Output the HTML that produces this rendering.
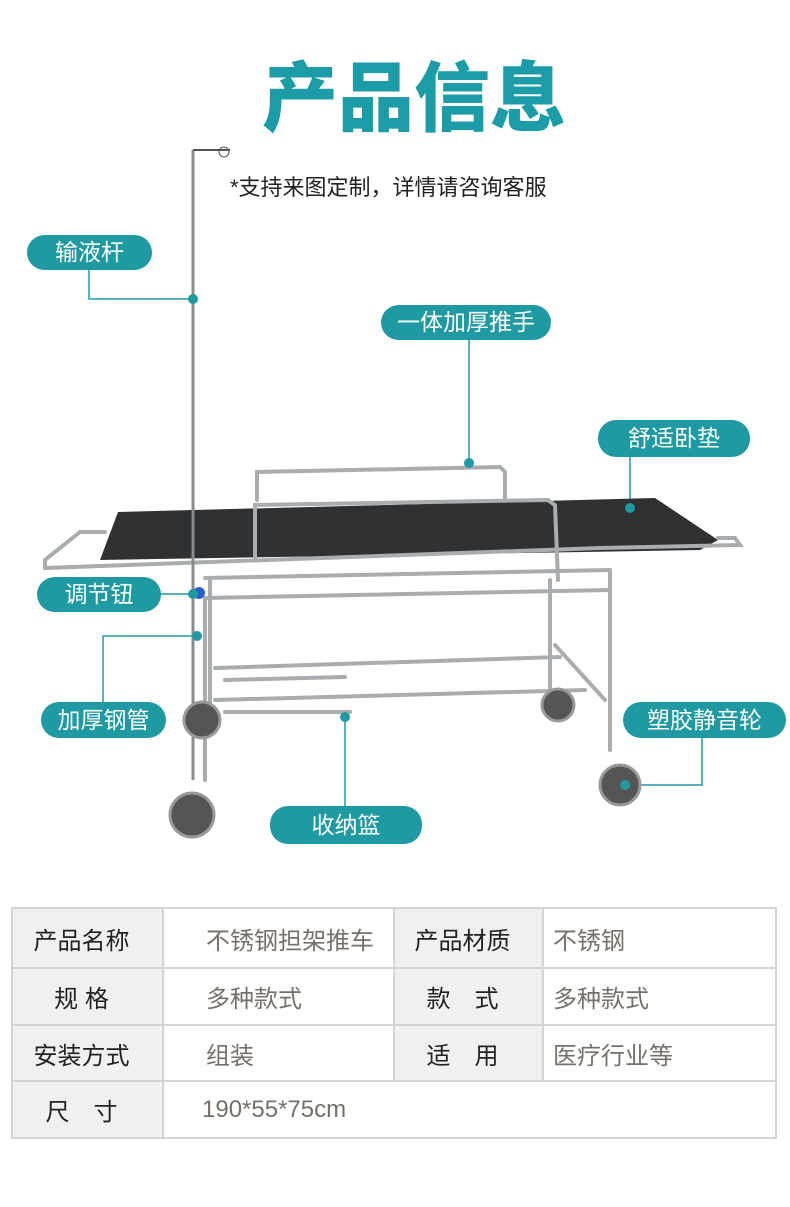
<!DOCTYPE html>
<html><head><meta charset="utf-8"><style>
body{margin:0;width:790px;height:1207px;background:#fff;position:relative;font-family:"Liberation Sans","Noto Sans CJK SC",sans-serif;overflow:hidden}
.t{position:absolute;left:262px;width:310px;top:52px;font-size:76px;font-weight:900;color:#1c9ca6;line-height:96px;white-space:nowrap}
.s{position:absolute;left:230px;top:170px;font-size:22px;color:#222;white-space:nowrap}
.p{position:absolute;background:#1f9aa3;color:#fff;border-radius:18px;font-size:23px;text-align:center;line-height:35px;height:35px}
table{position:absolute;left:11px;top:907px;width:766px;border-collapse:collapse;font-size:24px}
td{border:2px solid #d4d4d4;padding:0}
td.g{background:#f0f0f0;color:#222;text-align:center;padding-right:12px}
td.v{color:#776f6a;padding-left:42px}
td.v2{color:#776f6a;padding-left:9px}
</style></head><body>
<div class="t">产品信息</div>
<div class="s">*支持来图定制，详情请咨询客服</div>
<svg width="790" height="900" style="position:absolute;left:0;top:0">
<g stroke="#1f9aa3" stroke-width="1.5" fill="none">
<polyline points="89,268 89,299 193,299"/>
<line x1="469" y1="338" x2="469" y2="463"/>
<line x1="630" y1="455" x2="630" y2="508"/>
<line x1="160" y1="594" x2="196" y2="594"/>
<polyline points="103,702 103,636 197,636"/>
<polyline points="702,736 702,785 625,785"/>
<line x1="345" y1="806" x2="345" y2="717"/>
</g>
<polygon points="118,512 655,498 718,540 700,550 100,560" fill="#2f3133"/>
<g stroke="#a9adb0" stroke-width="4" fill="none" stroke-linecap="round">
<polyline points="105,532 80,532 45,560 45,568 600,548 740,545 735,538 718,538"/>
<polyline points="257,500 257,472 500,467 505,472 505,500"/>
<polyline points="255,560 255,505 548,500 555,505 558,580"/>
<line x1="205" y1="578" x2="610" y2="570"/>
<line x1="205" y1="598" x2="610" y2="590"/>
<line x1="210" y1="580" x2="210" y2="720"/>
<line x1="205" y1="600" x2="205" y2="780"/>
<line x1="550" y1="580" x2="550" y2="690"/>
<line x1="610" y1="570" x2="610" y2="750"/>
<line x1="215" y1="668" x2="560" y2="657"/>
<line x1="215" y1="700" x2="585" y2="690"/>
<line x1="225" y1="680" x2="345" y2="677"/>
<line x1="225" y1="712" x2="350" y2="712"/>
<line x1="555" y1="645" x2="605" y2="700"/>
</g>
<line x1="193" y1="150" x2="193" y2="780" stroke="#8a8d90" stroke-width="3"/>
<circle cx="224" cy="152" r="5" stroke="#555" fill="none"/>
<line x1="193" y1="150" x2="230" y2="150" stroke="#555" stroke-width="2"/>
<g fill="#555" stroke="#999" stroke-width="3">
<circle cx="192" cy="815" r="22"/><circle cx="202" cy="720" r="18"/>
<circle cx="558" cy="705" r="16"/><circle cx="620" cy="785" r="20"/>
</g>
<circle cx="199" cy="593" r="6" fill="#2a5fd0"/>
<g fill="#1f9aa3"><circle cx="193" cy="299" r="5"/><circle cx="469" cy="463" r="5"/><circle cx="630" cy="508" r="5"/><circle cx="193" cy="594" r="5"/><circle cx="197" cy="636" r="5"/><circle cx="625" cy="785" r="5"/><circle cx="345" cy="717" r="5"/></g>
</svg>
<div class="p" style="left:27px;top:235px;width:125px">输液杆</div>
<div class="p" style="left:381px;top:305px;width:170px">一体加厚推手</div>
<div class="p" style="left:598px;top:420px;width:152px;height:37px;line-height:37px">舒适卧垫</div>
<div class="p" style="left:37px;top:577px;width:124px">调节钮</div>
<div class="p" style="left:41px;top:702px;width:125px;height:36px;line-height:36px">加厚钢管</div>
<div class="p" style="left:623px;top:702px;width:163px;height:36px;line-height:36px">塑胶静音轮</div>
<div class="p" style="left:270px;top:806px;width:152px;height:38px;line-height:38px">收纳篮</div>
<table>
<tr style="height:60px"><td class="g" style="width:137px">产品名称</td><td class="v" style="width:187px">不锈钢担架推车</td><td class="g" style="width:135px">产品材质</td><td class="v2">不锈钢</td></tr>
<tr style="height:57px"><td class="g">规 格</td><td class="v">多种款式</td><td class="g">款　式</td><td class="v2">多种款式</td></tr>
<tr style="height:56px"><td class="g">安装方式</td><td class="v">组装</td><td class="g">适　用</td><td class="v2">医疗行业等</td></tr>
<tr style="height:57px"><td class="g">尺　寸</td><td class="v" colspan="3" style="padding-left:38px">190*55*75cm</td></tr>
</table>
</body></html>
